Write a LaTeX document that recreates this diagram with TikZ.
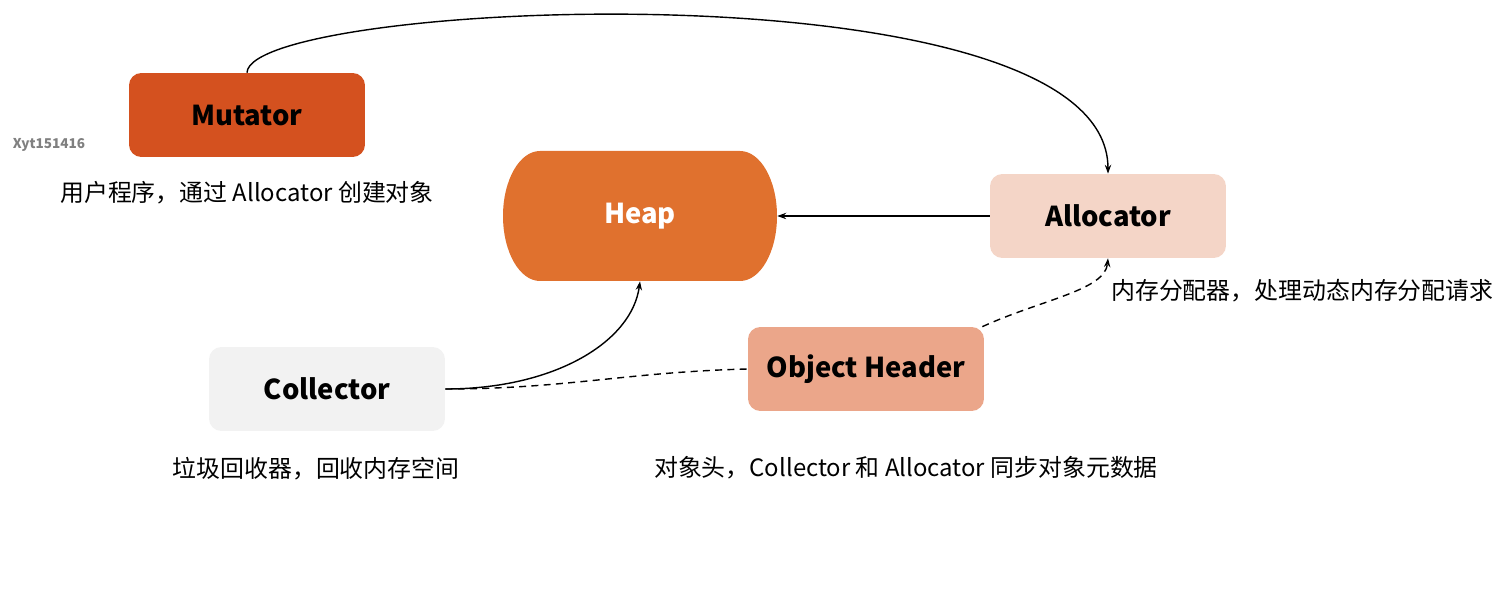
\documentclass[tikz,border=0pt]{standalone}
\usepackage{fontspec}
\setmainfont{Noto Sans CJK SC}
\usepackage{tikz}
\usetikzlibrary{arrows.meta,positioning}

\definecolor{MutOrange}{HTML}{D4511F}
\definecolor{HeapOrange}{HTML}{E0712E}
\definecolor{AllocPink}{HTML}{F4D5C7}
\definecolor{CollGray}{HTML}{F2F2F2}
\definecolor{HeaderSalmon}{HTML}{EBA68A}

\begin{document}
\begin{tikzpicture}[x=0.02cm, y=-0.02cm, >={Stealth[length=5pt,width=3.6pt]},
    block/.style={rectangle, rounded corners=7pt, minimum width=4.72cm, minimum height=1.68cm, inner sep=0pt, font=\fontsize{15.6}{18}\selectfont\bfseries},
    heapblock/.style={rectangle, text=white, minimum width=5.48cm, minimum height=2.6cm, inner sep=0pt, font=\fontsize{15.6}{18}\selectfont\bfseries},
    caption/.style={font=\fontsize{13.6}{16}\selectfont},
    link/.style={->, line width=0.8pt},
    weaklink/.style={line width=0.8pt, dash pattern=on 4pt off 3pt}]
    \useasboundingbox (0,0) rectangle (1502,604);

    % heap outline with bulging ends
    \fill [HeapOrange] (540,151) -- (740,151) arc [start angle=-90, end angle=90, x radius=37, y radius=65] -- (540,281) arc [start angle=90, end angle=270, x radius=37, y radius=65] -- cycle;

    \node [block, fill=MutOrange] (mut) at (247,115) {Mutator};
    \node [caption, below=0.35cm of mut] (mutcap) {用户程序，通过 Allocator 创建对象};
    \node [heapblock] (heap) at (640,216) {Heap};
    \node [block, fill=AllocPink] (alloc) at (1108,216) {Allocator};
    \node [caption, below right=0.29cm and -0.06cm of alloc.south] (alloccap) {内存分配器，处理动态内存分配请求};
    \node [block, fill=CollGray] (col) at (327,389) {Collector};
    \node [caption, below=0.39cm of col, xshift=-0.22cm] (colcap) {垃圾回收器，回收内存空间};
    \node [block, fill=HeaderSalmon] (oh) at (866,369) {Object Header};
    \node [caption, below=0.77cm of oh, xshift=0.8cm] (ohcap) {对象头，Collector 和 Allocator 同步对象元数据};
    \node [text=gray, font=\fontsize{7.7}{9}\selectfont\bfseries] (mark) at (49,145) {Xyt151416};

    \draw [link] (mut.north) .. controls +(3,-73) and +(0,-213) .. (alloc.north);
    \draw [link] (alloc) -- (heap);
    \draw [link] (col.east) .. controls +(110,0) and +(-8,60) .. (heap.south);
    \draw [weaklink] (col.east) .. controls +(120,0) and +(-120,3) .. (oh.west);
    \draw [link, weaklink] (oh.20) .. controls +(59,-27) and +(-3,32) .. (alloc.south);
\end{tikzpicture}
\end{document}
